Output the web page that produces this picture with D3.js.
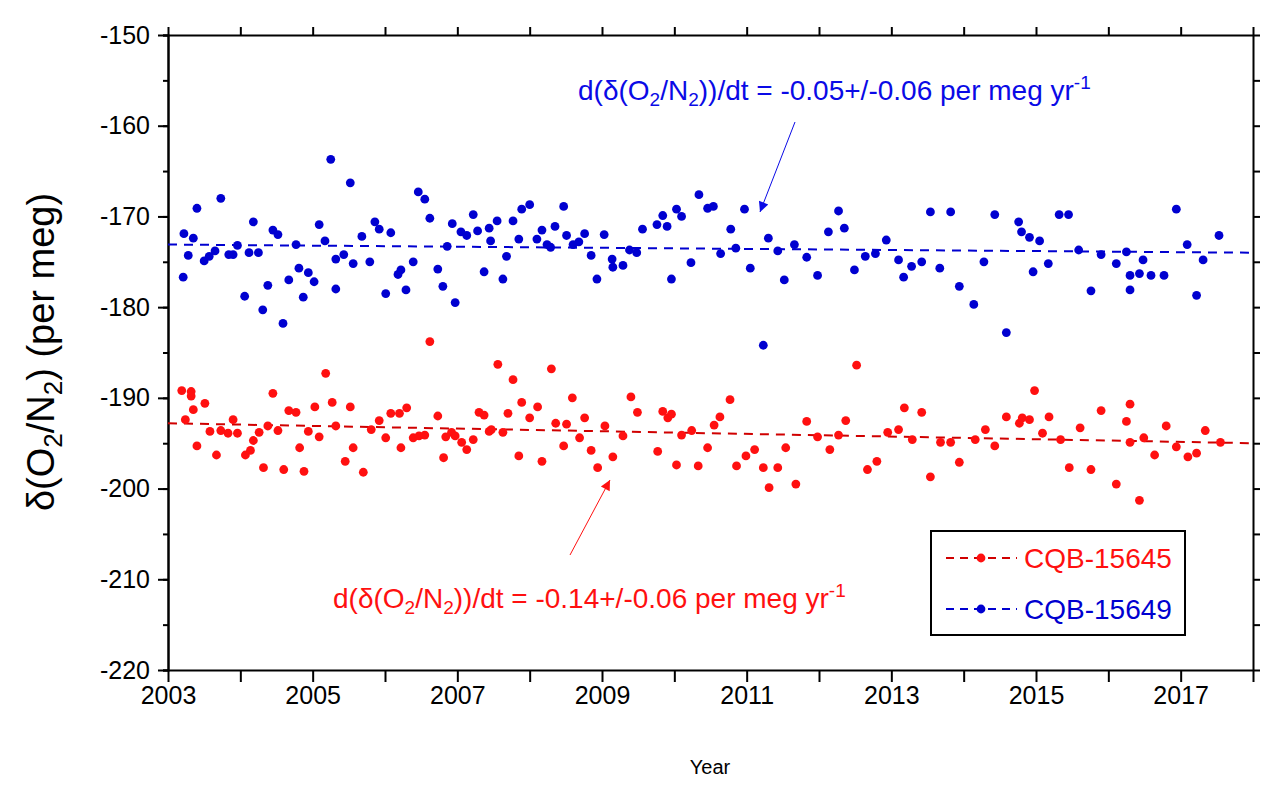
<!DOCTYPE html>
<html>
<head>
<meta charset="utf-8">
<script src="https://cdn.jsdelivr.net/npm/d3@7"></script>
<style>
  body { margin: 0; background: #fff; }
  svg { display: block; font-family: Arial, "Liberation Sans", sans-serif; }
</style>
</head>
<body>
<svg id="chart"></svg>
<script>
// CQB-15649 (blue) samples: decimal year / delta(O2/N2) per meg
const blueYears = [
  2003.21, 2003.22, 2003.28, 2003.35, 2003.40, 2003.50, 2003.57, 2003.65, 2003.73, 2003.84,
  2003.90, 2003.96, 2004.06, 2004.12, 2004.18, 2004.25, 2004.31, 2004.38, 2004.45, 2004.52,
  2004.59, 2004.67, 2004.77, 2004.81, 2004.87, 2004.94, 2005.02, 2005.09, 2005.17, 2005.25,
  2005.32, 2005.32, 2005.43, 2005.52, 2005.56, 2005.68, 2005.79, 2005.86, 2005.92, 2006.01,
  2006.08, 2006.18, 2006.22, 2006.29, 2006.39, 2006.46, 2006.55, 2006.62, 2006.73, 2006.80,
  2006.86, 2006.93, 2006.97, 2007.05, 2007.13, 2007.22, 2007.28, 2007.37, 2007.44, 2007.46,
  2007.55, 2007.63, 2007.68, 2007.77, 2007.85, 2007.89, 2008.00, 2008.10, 2008.17, 2008.24,
  2008.29, 2008.35, 2008.47, 2008.51, 2008.60, 2008.68, 2008.76, 2008.85, 2008.93, 2009.03,
  2009.14, 2009.15, 2009.29, 2009.38, 2009.48, 2009.56, 2009.76, 2009.84, 2009.90, 2009.96,
  2010.03, 2010.10, 2010.23, 2010.34, 2010.46, 2010.54, 2010.64, 2010.78, 2010.85, 2010.97,
  2011.05, 2011.23, 2011.30, 2011.43, 2011.52, 2011.66, 2011.83, 2011.98, 2012.13, 2012.27,
  2012.35, 2012.49, 2012.64, 2012.78, 2012.93, 2013.10, 2013.17, 2013.28, 2013.42, 2013.54,
  2013.67, 2013.82, 2013.94, 2014.14, 2014.28, 2014.43, 2014.59, 2014.76, 2014.80, 2014.91,
  2014.96, 2015.05, 2015.17, 2015.32, 2015.45, 2015.59, 2015.76, 2015.90, 2016.11, 2016.25,
  2016.30, 2016.30, 2016.43, 2016.48, 2016.59, 2016.77, 2016.94, 2017.09, 2017.22, 2017.31,
  2017.53
];
const blueValues = [
  -176.7, -171.9, -174.3, -172.4, -169.1, -174.9, -174.4, -173.8, -168.0, -174.2,
  -174.2, -173.2, -178.8, -174.0, -170.6, -174.0, -180.3, -177.6, -171.5, -172.0,
  -181.8, -177.0, -173.1, -175.7, -178.9, -176.2, -177.2, -170.9, -172.7, -163.7,
  -174.7, -178.0, -174.2, -166.3, -175.2, -172.2, -175.0, -170.6, -171.4, -178.5,
  -171.8, -176.4, -175.9, -178.1, -175.0, -167.3, -168.1, -170.2, -175.8, -177.7,
  -173.3, -170.8, -179.5, -171.7, -172.1, -169.8, -171.6, -176.1, -171.3, -172.7,
  -170.5, -176.9, -174.4, -170.5, -172.5, -169.2, -168.7, -172.5, -171.5, -173.1,
  -173.4, -171.1, -168.9, -172.1, -173.1, -172.8, -171.9, -174.3, -176.9, -172.0,
  -174.7, -175.6, -175.4, -173.7, -174.0, -171.4, -170.9, -169.9, -171.1, -176.9,
  -169.2, -170.0, -175.1, -167.6, -169.1, -168.9, -174.1, -171.4, -173.5, -169.2,
  -175.7, -184.2, -172.4, -173.8, -177.0, -173.1, -174.5, -176.5, -171.7, -169.4,
  -171.3, -175.9, -174.4, -174.1, -172.6, -174.8, -176.7, -175.5, -175.0, -169.5,
  -175.7, -169.5, -177.7, -179.7, -175.0, -169.8, -182.8, -170.6, -171.7, -172.3,
  -176.1, -172.7, -175.2, -169.8, -169.8, -173.7, -178.2, -174.2, -175.2, -173.9,
  -176.5, -178.1, -176.3, -174.8, -176.5, -176.5, -169.2, -173.1, -178.7, -174.8,
  -172.1
];

// CQB-15645 (red) samples
const redYears = [
  2003.19, 2003.24, 2003.32, 2003.32, 2003.35, 2003.40, 2003.51, 2003.58, 2003.67, 2003.73,
  2003.83, 2003.90, 2003.96, 2004.07, 2004.14, 2004.18, 2004.26, 2004.32, 2004.38, 2004.45,
  2004.52, 2004.60, 2004.67, 2004.77, 2004.82, 2004.88, 2004.94, 2005.03, 2005.09, 2005.18,
  2005.27, 2005.32, 2005.45, 2005.52, 2005.56, 2005.70, 2005.81, 2005.92, 2006.01, 2006.08,
  2006.20, 2006.22, 2006.30, 2006.39, 2006.47, 2006.55, 2006.62, 2006.73, 2006.81, 2006.84,
  2006.92, 2006.97, 2007.06, 2007.13, 2007.22, 2007.30, 2007.37, 2007.44, 2007.47, 2007.56,
  2007.63, 2007.70, 2007.77, 2007.85, 2007.89, 2008.00, 2008.11, 2008.17, 2008.30, 2008.36,
  2008.47, 2008.51, 2008.59, 2008.69, 2008.76, 2008.85, 2008.94, 2009.04, 2009.15, 2009.29,
  2009.40, 2009.49, 2009.77, 2009.84, 2009.91, 2009.96, 2010.03, 2010.10, 2010.24, 2010.33,
  2010.46, 2010.55, 2010.63, 2010.77, 2010.86, 2010.99, 2011.11, 2011.23, 2011.31, 2011.43,
  2011.54, 2011.68, 2011.83, 2011.98, 2012.15, 2012.27, 2012.37, 2012.52, 2012.67, 2012.80,
  2012.95, 2013.10, 2013.18, 2013.29, 2013.42, 2013.54, 2013.68, 2013.82, 2013.94, 2014.16,
  2014.30, 2014.43, 2014.59, 2014.77, 2014.81, 2014.91, 2014.98, 2015.09, 2015.18, 2015.34,
  2015.46, 2015.61, 2015.76, 2015.90, 2016.11, 2016.25, 2016.30, 2016.30, 2016.43, 2016.49,
  2016.64, 2016.80, 2016.94, 2017.10, 2017.22, 2017.34, 2017.55
];
const redValues = [
  -189.2, -192.4, -189.3, -189.8, -191.3, -195.3, -190.6, -193.7, -196.3, -193.6,
  -193.9, -192.4, -193.9, -196.3, -195.8, -194.7, -193.8, -197.7, -193.1, -189.5,
  -193.6, -197.9, -191.4, -191.6, -195.5, -198.1, -193.7, -191.0, -194.3, -187.3,
  -190.5, -193.1, -197.0, -191.0, -195.5, -198.2, -193.5, -192.5, -194.4, -191.7,
  -191.7, -195.5, -191.1, -194.4, -194.2, -194.1, -183.8, -192.0, -196.6, -194.3,
  -193.8, -194.2, -194.9, -195.7, -194.6, -191.6, -191.9, -193.7, -193.5, -186.3,
  -193.8, -191.7, -188.0, -196.4, -190.5, -192.2, -191.0, -197.0, -186.8, -192.8,
  -195.3, -192.9, -190.0, -194.4, -192.2, -195.8, -197.7, -193.1, -196.5, -194.2,
  -189.9, -191.6, -195.9, -191.5, -192.2, -191.8, -197.4, -194.1, -193.6, -197.5,
  -195.5, -193.0, -192.1, -190.2, -197.5, -196.4, -195.7, -197.7, -199.9, -197.7,
  -195.5, -199.5, -192.6, -194.3, -195.7, -194.1, -192.5, -186.4, -197.9, -197.0,
  -193.8, -193.5, -191.1, -194.6, -191.6, -198.7, -194.9, -194.9, -197.1, -194.6,
  -193.5, -195.3, -192.1, -192.8, -192.2, -192.4, -189.2, -193.9, -192.1, -194.6,
  -197.7, -193.3, -197.9, -191.4, -199.5, -192.6, -190.7, -194.9, -201.3, -194.4,
  -196.3, -193.1, -195.4, -196.5, -196.1, -193.6, -194.9
];

// linear fits
const fitYears = [2003, 2018];
const blueFit = [-173.1, -174.0];
const redFit = [-192.8, -195.0];

const xTicksMajor = [2003, 2005, 2007, 2009, 2011, 2013, 2015, 2017];
const xTicksAll = d3.range(2003, 2019);
const yTicksMajor = [-220, -210, -200, -190, -180, -170, -160, -150];
const yTicksAll = d3.range(-220, -149, 5);

const width = 1281, height = 795;
const svg = d3.select("#chart").attr("width", width).attr("height", height);

const x = d3.scaleLinear().domain([2003, 2018]).range([168, 1253]);
const y = d3.scaleLinear().domain([-220, -150]).range([670, 35]);

const blueCol = "#0000d0", blueText = "#0a0ae6";
const redCol = "#ff1010", redLine = "#d00000";

// axes
const fontSize = "25px";
function styleAxis(g) {
  g.select(".domain").attr("stroke", "#000").attr("stroke-width", 2);
  g.selectAll(".tick line").attr("stroke", "#000").attr("stroke-width", 2);
  g.selectAll(".tick text").attr("fill", "#000").style("font-size", fontSize);
}

// minor ticks first so the major ones draw on top
svg.append("g").attr("transform", "translate(168,0)")
  .call(d3.axisLeft(y).tickValues(yTicksAll).tickSize(5).tickFormat(""))
  .call(styleAxis);
svg.append("g").attr("transform", "translate(168,0)")
  .call(d3.axisLeft(y).tickValues(yTicksMajor).tickSize(10).tickPadding(8).tickSizeOuter(0)
    .tickFormat(d => String(d)))
  .call(styleAxis);

svg.append("g").attr("transform", "translate(1253,0)")
  .call(d3.axisRight(y).tickValues(yTicksAll).tickSize(7).tickFormat("").tickSizeOuter(0))
  .call(styleAxis);

svg.append("g").attr("transform", "translate(0,670)")
  .call(d3.axisBottom(x).tickValues(xTicksAll).tickSize(12).tickPadding(4).tickSizeOuter(0)
    .tickFormat(d => xTicksMajor.includes(d) ? d : ""))
  .call(styleAxis);

svg.append("g").attr("transform", "translate(0,35)")
  .call(d3.axisTop(x).tickValues(xTicksAll).tickSize(8).tickFormat("").tickSizeOuter(0))
  .call(styleAxis);

// axis titles
svg.append("text")
  .attr("x", 710).attr("y", 774)
  .attr("text-anchor", "middle")
  .style("font-size", "20px")
  .text("Year");

const yTitle = svg.append("text")
  .attr("transform", "translate(54,352) rotate(-90)")
  .attr("text-anchor", "middle")
  .style("font-size", "38px");
yTitle.append("tspan").text("\u03b4(O");
yTitle.append("tspan").attr("dy", 8).style("font-size", "26px").text("2");
yTitle.append("tspan").attr("dy", -8).text("/N");
yTitle.append("tspan").attr("dy", 8).style("font-size", "26px").text("2");
yTitle.append("tspan").attr("dy", -8).text(") (per meg)");

// fit lines
function fitLine(vals, col) {
  svg.append("line")
    .attr("x1", x(fitYears[0])).attr("y1", y(vals[0]))
    .attr("x2", x(fitYears[1])).attr("y2", y(vals[1]))
    .attr("stroke", col).attr("stroke-width", 2)
    .attr("stroke-dasharray", "9,7");
}
fitLine(blueFit, blueCol);
fitLine(redFit, redLine);

// points
function points(xs, ys, col) {
  svg.append("g").selectAll("circle")
    .data(xs.map((d, i) => [d, ys[i]]))
    .join("circle")
    .attr("cx", d => x(d[0]))
    .attr("cy", d => y(d[1]))
    .attr("r", 4.4)
    .attr("fill", col);
}
points(blueYears, blueValues, blueCol);
points(redYears, redValues, redCol);

// slope annotations
function slopeLabel(px, py, slope, col) {
  const t = svg.append("text").attr("x", px).attr("y", py)
    .attr("fill", col).style("font-size", "28px");
  t.append("tspan").text("d(\u03b4(O");
  t.append("tspan").attr("dy", 6).style("font-size", "19px").text("2");
  t.append("tspan").attr("dy", -6).text("/N");
  t.append("tspan").attr("dy", 6).style("font-size", "19px").text("2");
  t.append("tspan").attr("dy", -6).text("))/dt = " + slope + " per meg yr");
  t.append("tspan").attr("dy", -11).style("font-size", "19px").text("-1");
}
slopeLabel(578, 100, "-0.05+/-0.06", blueText);
slopeLabel(333, 608, "-0.14+/-0.06", redCol);

// arrows
const defs = svg.append("defs");
function arrowHead(id, col) {
  defs.append("marker").attr("id", id)
    .attr("viewBox", "0 0 10 10").attr("refX", 10).attr("refY", 5)
    .attr("markerWidth", 16).attr("markerHeight", 10)
    .attr("markerUnits", "userSpaceOnUse")
    .attr("orient", "auto")
    .append("path").attr("d", "M0,0 L10,5 L0,10 Z").attr("fill", col);
}
arrowHead("arrowBlue", blueText);
arrowHead("arrowRed", redCol);

svg.append("line").attr("x1", 795).attr("y1", 122).attr("x2", 760).attr("y2", 212)
  .attr("stroke", blueText).attr("stroke-width", 1).attr("marker-end", "url(#arrowBlue)");
svg.append("line").attr("x1", 570).attr("y1", 555).attr("x2", 610).attr("y2", 480)
  .attr("stroke", redCol).attr("stroke-width", 1).attr("marker-end", "url(#arrowRed)");

// legend
const legend = svg.append("g");
legend.append("rect")
  .attr("x", 931).attr("y", 531).attr("width", 254).attr("height", 104)
  .attr("fill", "#fff").attr("stroke", "#000").attr("stroke-width", 2);

const legendItems = [
  { name: "CQB-15645", dot: redCol, line: redLine, text: redCol },
  { name: "CQB-15649", dot: blueCol, line: blueCol, text: blueCol }
];
legendItems.forEach((d, i) => {
  const ly = 558 + i * 51;
  legend.append("line")
    .attr("x1", 946).attr("y1", ly).attr("x2", 1017).attr("y2", ly)
    .attr("stroke", d.line).attr("stroke-width", 2)
    .attr("stroke-dasharray", "8,6");
  legend.append("circle").attr("cx", 981).attr("cy", ly).attr("r", 4.4).attr("fill", d.dot);
  legend.append("text")
    .attr("x", 1024).attr("y", ly + 10)
    .attr("fill", d.text).style("font-size", "28px")
    .text(d.name);
});
</script>
</body>
</html>
